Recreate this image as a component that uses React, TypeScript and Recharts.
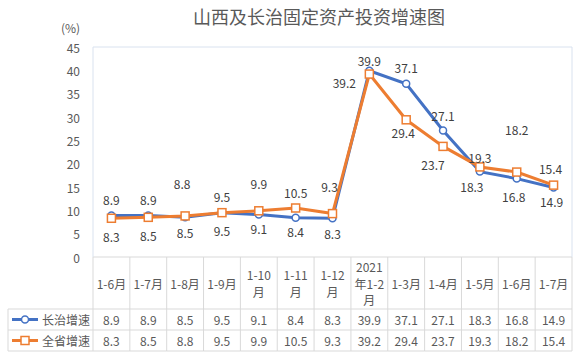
import React from 'react';
import { LineChart, Line, XAxis, YAxis, ReferenceLine, LabelList } from 'recharts';

const categories = ['1-6月', '1-7月', '1-8月', '1-9月', '1-10\n月', '1-11\n月', '1-12\n月', '2021\n年1-2\n月', '1-3月', '1-4月', '1-5月', '1-6月', '1-7月'];
const changzhi = [8.9, 8.9, 8.5, 9.5, 9.1, 8.4, 8.3, 39.9, 37.1, 27.1, 18.3, 16.8, 14.9];
const shanxi = [8.3, 8.5, 8.8, 9.5, 9.9, 10.5, 9.3, 39.2, 29.4, 23.7, 19.3, 18.2, 15.4];
const yTicks = [0, 5, 10, 15, 20, 25, 30, 35, 40, 45];
const seriesNames = ['长治增速', '全省增速'];

// label placement offsets (dx, dy) relative to each point
const czOffsets: [number, number][] = [[0, -15.5], [0, -15.5], [0, 15], [0, 18], [0, 14], [0, 14], [0, 15], [0, -10], [0, -16], [0, -15.5], [-8, 15], [-3, 18], [-2, 14]];
const sxOffsets: [number, number][] = [[0, 18], [0, 18], [-3, -32], [0, -16], [0, -27], [0, -16], [-3, -27], [-25, 8], [-3, 13], [-10, 18], [0, -9], [0, -43], [-3, -17]];

const data = categories.map((c, i) => ({ i, cat: c, changzhi: changzhi[i], shanxi: shanxi[i] }));

const W = 579, H = 356;
const PLOT_LEFT = 93, PLOT_RIGHT = 572, PLOT_TOP = 47, PLOT_BOTTOM = 257;
const ROW1 = 309, ROW2 = 330, TBL_BOTTOM = 351, TBL_LEFT = 8;
const BLUE = '#4472C4', ORANGE = '#ED7D31';
const GRID = '#d9d9d9', BORDER = '#d9e2ef', TXT = '#595959', LBL = '#404040';
const FONT = '"Noto Sans CJK SC", "Noto Sans", sans-serif';
const COL_W = (PLOT_RIGHT - PLOT_LEFT) / categories.length;

const makeLabel = (offsets: [number, number][]) => (props: any) => {
  const { x, y, value, index } = props;
  const [dx, dy] = offsets[index] || [0, 0];
  return (
    <text x={x + dx} y={y + dy} textAnchor="middle" dominantBaseline="central" fill={LBL} fontSize={12} fontFamily={FONT}>
      {value}
    </text>
  );
};

const SquareDot = (props: any) => {
  const { cx, cy, index } = props;
  if (cx == null || cy == null) return null;
  return <rect key={'sq' + index} x={cx - 4} y={cy - 4} width={8} height={8} fill="#fff" stroke={ORANGE} strokeWidth={1.5} />;
};

const TableTick = (props: any) => {
  const { x, payload } = props;
  const i = payload.value as number;
  const l = x - COL_W / 2;
  const r = x + COL_W / 2;
  const lines = categories[i].split('\n');
  const lh = 16.5;
  const cy = (PLOT_BOTTOM + ROW1) / 2;
  const startY = cy - ((lines.length - 1) * lh) / 2;
  return (
    <g fontFamily={FONT}>
      <line x1={r} y1={PLOT_BOTTOM} x2={r} y2={TBL_BOTTOM} stroke={GRID} />
      <line x1={l} y1={ROW1} x2={r} y2={ROW1} stroke={GRID} />
      <line x1={l} y1={ROW2} x2={r} y2={ROW2} stroke={GRID} />
      <line x1={l} y1={TBL_BOTTOM} x2={r} y2={TBL_BOTTOM} stroke={GRID} />
      {i === 0 && (
        <g>
          <line x1={l} y1={PLOT_BOTTOM} x2={l} y2={TBL_BOTTOM} stroke={GRID} />
          <line x1={TBL_LEFT} y1={ROW1} x2={l} y2={ROW1} stroke={GRID} />
          <line x1={TBL_LEFT} y1={ROW2} x2={l} y2={ROW2} stroke={GRID} />
          <line x1={TBL_LEFT} y1={TBL_BOTTOM} x2={l} y2={TBL_BOTTOM} stroke={GRID} />
          <line x1={TBL_LEFT} y1={ROW1} x2={TBL_LEFT} y2={TBL_BOTTOM} stroke={GRID} />
          <line x1={12} y1={(ROW1 + ROW2) / 2} x2={38} y2={(ROW1 + ROW2) / 2} stroke={BLUE} strokeWidth={3} />
          <circle cx={25} cy={(ROW1 + ROW2) / 2} r={3.5} fill="#fff" stroke={BLUE} strokeWidth={1.5} />
          <text x={42} y={(ROW1 + ROW2) / 2} dominantBaseline="central" fill={TXT} fontSize={12}>{seriesNames[0]}</text>
          <line x1={12} y1={(ROW2 + TBL_BOTTOM) / 2} x2={38} y2={(ROW2 + TBL_BOTTOM) / 2} stroke={ORANGE} strokeWidth={3} />
          <rect x={21} y={(ROW2 + TBL_BOTTOM) / 2 - 4} width={8} height={8} fill="#fff" stroke={ORANGE} strokeWidth={1.5} />
          <text x={42} y={(ROW2 + TBL_BOTTOM) / 2} dominantBaseline="central" fill={TXT} fontSize={12}>{seriesNames[1]}</text>
        </g>
      )}
      {lines.map((t, k) => (
        <text key={k} x={x} y={startY + k * lh} textAnchor="middle" dominantBaseline="central" fill={TXT} fontSize={12}>{t}</text>
      ))}
      <text x={x} y={(ROW1 + ROW2) / 2} textAnchor="middle" dominantBaseline="central" fill={TXT} fontSize={12}>{changzhi[i]}</text>
      <text x={x} y={(ROW2 + TBL_BOTTOM) / 2} textAnchor="middle" dominantBaseline="central" fill={TXT} fontSize={12}>{shanxi[i]}</text>
    </g>
  );
};

const YTick = (props: any) => {
  const { y, payload } = props;
  return (
    <text x={80} y={y} textAnchor="end" dominantBaseline="central" fill={TXT} fontSize={12} fontFamily={FONT}>{payload.value}</text>
  );
};

export default function App() {
  return (
    <div style={{ position: 'absolute', left: 0, top: 0, width: W, height: H, background: '#fff', overflow: 'hidden' }}>
      <div style={{ position: 'absolute', left: 0, width: 638, top: 4, textAlign: 'center', fontFamily: FONT, fontSize: 18, color: TXT, lineHeight: '24px', whiteSpace: 'nowrap' }}>
        山西及长治固定资产投资增速图
      </div>
      <div style={{ position: 'absolute', left: 61, top: 19, fontFamily: FONT, fontSize: 12, color: TXT, lineHeight: '18px' }}>(%)</div>
      <LineChart width={W} height={H} data={data} margin={{ top: PLOT_TOP, right: 0, left: 0, bottom: 0 }}>
        <XAxis
          dataKey="i"
          type="category"
          height={H - PLOT_BOTTOM}
          padding={{ left: COL_W / 2, right: COL_W / 2 }}
          axisLine={{ stroke: GRID }}
          tickLine={false}
          tickSize={0}
          interval={0}
          tick={<TableTick />}
        />
        <YAxis
          yAxisId="l"
          width={PLOT_LEFT}
          domain={[0, 45]}
          ticks={yTicks}
          interval={0}
          axisLine={{ stroke: BORDER }}
          tickLine={false}
          tick={<YTick />}
        />
        <YAxis yAxisId="r" orientation="right" width={W - PLOT_RIGHT} domain={[0, 45]} axisLine={{ stroke: BORDER }} tickLine={false} tick={false} />
        <ReferenceLine yAxisId="l" y={45} stroke={BORDER} />
        <Line
          yAxisId="l"
          dataKey="changzhi"
          stroke={BLUE}
          strokeWidth={3}
          dot={{ r: 3.5, fill: '#fff', stroke: BLUE, strokeWidth: 1.5 }}
          isAnimationActive={false}
        >
          <LabelList dataKey="changzhi" content={makeLabel(czOffsets)} />
        </Line>
        <Line
          yAxisId="l"
          dataKey="shanxi"
          stroke={ORANGE}
          strokeWidth={3}
          dot={<SquareDot />}
          isAnimationActive={false}
        >
          <LabelList dataKey="shanxi" content={makeLabel(sxOffsets)} />
        </Line>
      </LineChart>
    </div>
  );
}
